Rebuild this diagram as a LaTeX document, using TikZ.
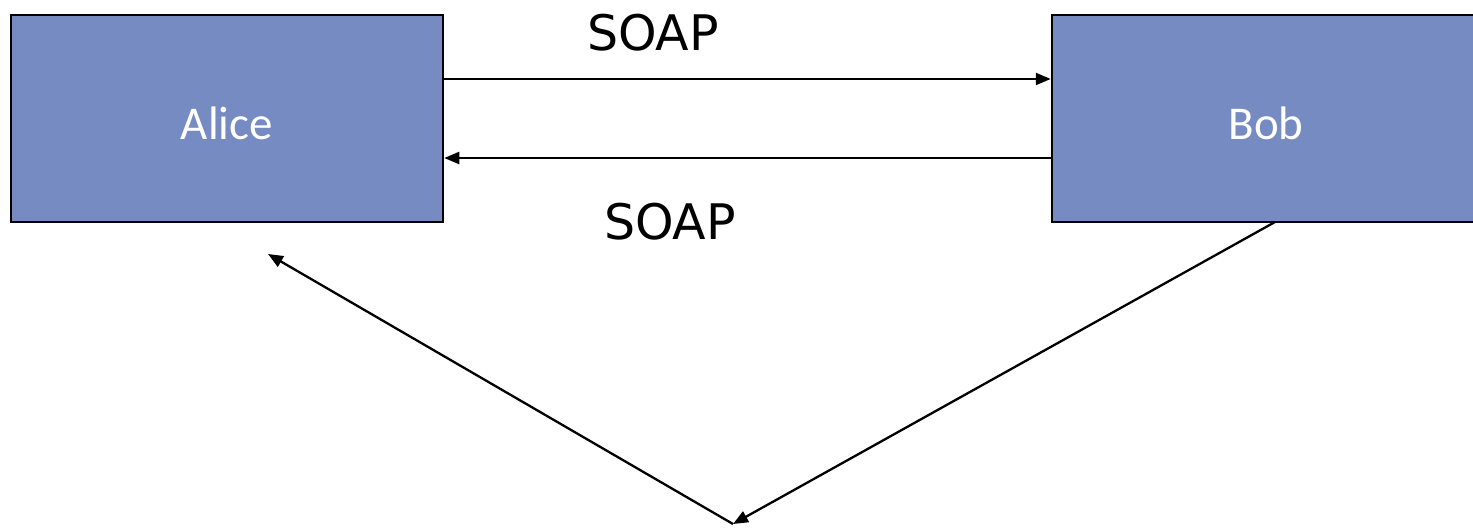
\documentclass[tikz,border=0pt]{standalone}
\usepackage{fontspec}
\newfontfamily\boxfont{Carlito}
\newfontfamily\lblfont{DejaVu Sans}
\usetikzlibrary{arrows.meta}
\definecolor{boxblue}{RGB}{117,139,194}
\tikzset{
  party/.style={draw=black, line width=2.5pt, fill=boxblue, inner sep=0pt},
  ptext/.style={text=white, font=\boxfont\fontsize{47}{56}\selectfont},
  conn/.style={line width=2.3pt, -{Triangle[length=15pt,width=12pt]}},
  lbl/.style={font=\lblfont\fontsize{49}{58}\selectfont, text=black}
}
\begin{document}
\begin{tikzpicture}[x=1pt,y=-1pt]
\useasboundingbox (0,0) rectangle (1473,529);
\fill[white] (0,0) rectangle (1473,529);
\begin{scope}
\clip (0,0) rectangle (1473,529);
\node[party, minimum width=432pt, minimum height=207pt] (alice) at (227,118.5) {};
\node[party, minimum width=428pt, minimum height=207pt] (bob) at (1266,118.5) {};
\end{scope}
\node[ptext] (alicetxt) at (227,123) {Alice};
\node[ptext] (bobtxt) at (1266,123) {Bob};
\coordinate (a1) at (alice.east |- 0,79);
\coordinate (b1) at (bob.west |- 0,79);
\coordinate (a2) at (alice.east |- 0,158);
\coordinate (b2) at (bob.west |- 0,158);
\draw[conn] (a1) -- (b1);
\draw[conn] (b2) -- (a2);
\node[lbl] (soap1) at (653,33) {SOAP};
\node[lbl] (soap2) at (670,222) {SOAP};
\coordinate (bobout) at (1275,222);
\coordinate (meet) at (733,524);
\coordinate (alicein) at (268,254);
\draw[conn] (bobout) -- (meet);
\draw[conn] (meet) -- (alicein);
\end{tikzpicture}
\end{document}
